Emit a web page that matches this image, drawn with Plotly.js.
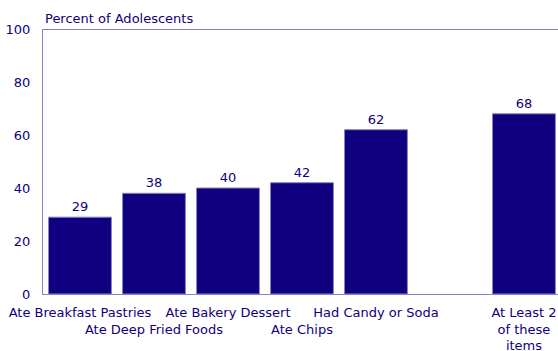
<!DOCTYPE html>
<html>
<head>
<meta charset="utf-8">
<script src="https://cdn.plot.ly/plotly-3.0.1.min.js"></script>
<style>html,body{margin:0;padding:0;background:#fff;}#chart{width:558px;height:351px;}</style>
</head>
<body>
<div id="chart"></div>
<script>
var categories = ["Ate Breakfast Pastries", "Ate Deep Fried Foods", "Ate Bakery Dessert", "Ate Chips", "Had Candy or Soda", "", "At Least 2 of these items"];
var tickLabels = ["Ate Breakfast Pastries", "<br>Ate Deep Fried Foods", "Ate Bakery Dessert", "<br>Ate Chips", "Had Candy or Soda", "", "At Least 2<br>of these<br>items"];
var values = [29, 38, 40, 42, 62, null, 68];
var valueLabels = ["29", "38", "40", "42", "62", "", "68"];
var yTicks = [0, 20, 40, 60, 80, 100];

var navy = "#10007f";
var lite = "#8585c2";
var font = "DejaVu Sans, Verdana, sans-serif";
var fs = 13;

var trace = {
  type: "bar",
  x: categories,
  y: values,
  text: valueLabels,
  textposition: "outside",
  cliponaxis: false,
  textfont: {family: font, size: fs, color: navy},
  marker: {color: navy, line: {color: lite, width: 1}},
  hoverinfo: "none"
};

var layout = {
  width: 558, height: 351,
  margin: {l: 43, r: 0, t: 29, b: 57, pad: 0},
  paper_bgcolor: "#fff", plot_bgcolor: "#fff",
  showlegend: false,
  bargap: 0.15,
  font: {family: font, size: fs, color: navy},
  xaxis: {
    type: "category",
    categoryorder: "array",
    categoryarray: categories,
    tickvals: categories,
    ticktext: tickLabels,
    range: [-0.5, 6.46],
    showline: true, linecolor: lite, linewidth: 1,
    ticks: "", showgrid: false, zeroline: false,
    tickangle: 0,
    ticklabelstandoff: 6,
    tickfont: {family: font, size: fs, color: navy},
    automargin: false
  },
  yaxis: {
    range: [0, 100],
    tickvals: yTicks,
    ticktext: yTicks.map(String),
    showline: true, linecolor: lite, linewidth: 1,
    ticks: "", showgrid: false, zeroline: false,
    ticklabelstandoff: 9,
    tickfont: {family: font, size: fs, color: navy},
    automargin: false
  },
  shapes: [{
    type: "line", xref: "paper", yref: "y", x0: 0, x1: 1, y0: 100, y1: 100,
    line: {color: navy, width: 1}
  }],
  annotations: [
    {text: "Percent of Adolescents", xref: "paper", yref: "paper", x: 0, y: 1,
     xanchor: "left", yanchor: "bottom", yshift: 1, xshift: 0, showarrow: false,
     font: {family: font, size: fs, color: navy}},
    {text: "Source:", xref: "paper", yref: "paper", x: -0.06, y: 0, yanchor: "top", xanchor: "left",
     yshift: -53, showarrow: false, font: {family: font, size: fs, color: navy}},
    {text: "2000", xref: "paper", yref: "paper", x: 0.343, y: 0, yanchor: "top", xanchor: "left",
     yshift: -53, showarrow: false, font: {family: font, size: fs, color: navy}}
  ]
};

Plotly.newPlot("chart", [trace], layout, {staticPlot: true, displayModeBar: false});
</script>
</body>
</html>
